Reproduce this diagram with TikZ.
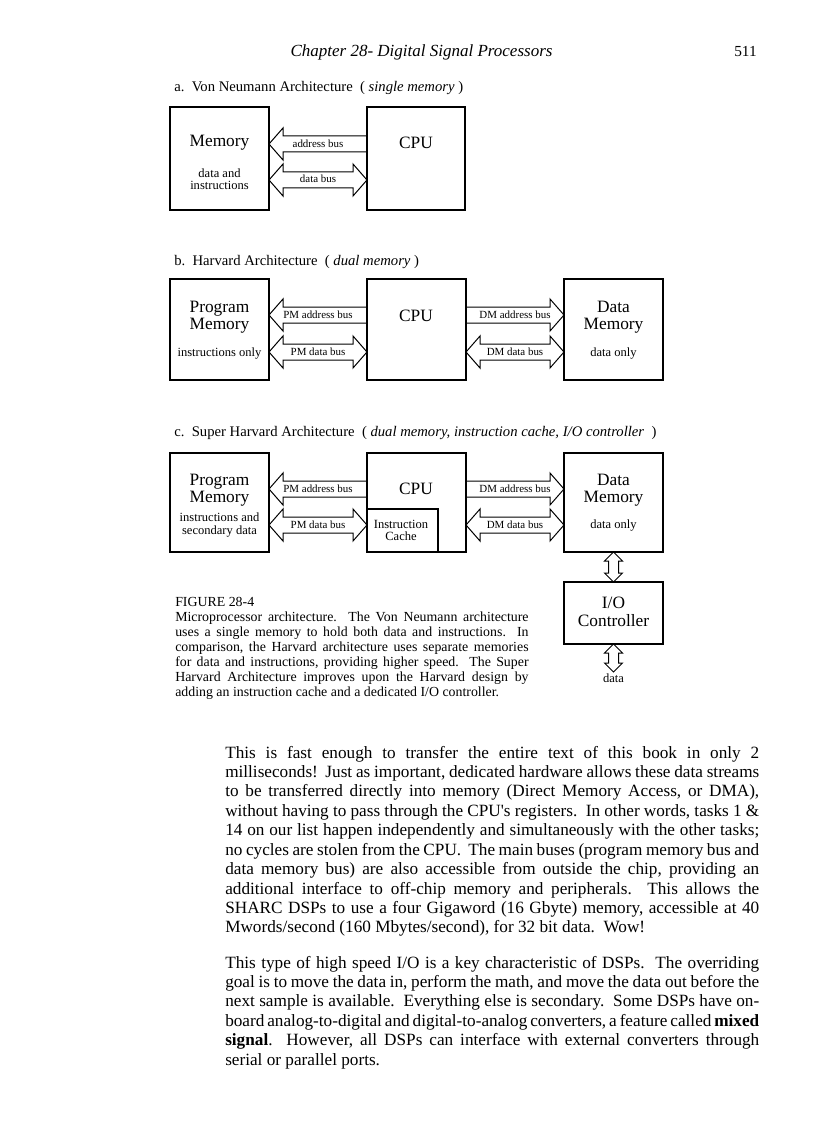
\documentclass[tikz,border=0pt]{standalone}
\usepackage{fontspec}
\setmainfont{Liberation Serif}
\usetikzlibrary{calc,fit}
\pgfdeclarelayer{bg}
\pgfsetlayers{bg,main}
\tikzset{
  box/.style={draw, line width=1.6pt, inner sep=0pt, outer sep=0pt},
  thinbox/.style={draw, line width=0.8pt, inner sep=0pt, outer sep=0pt},
  bus/.style={draw, fill=white, line width=0.75pt, line join=miter},
  big/.style={font=\fontsize{13}{15}\selectfont, inner sep=0pt, anchor=base},
  mid/.style={font=\fontsize{9.4}{11}\selectfont, inner sep=0pt, anchor=base},
  lbl/.style={font=\fontsize{8.2}{10}\selectfont, inner sep=0pt, anchor=base},
  ttl/.style={font=\fontsize{11}{13}\selectfont, inner sep=0pt, anchor=base west},
  bodytext/.style={anchor=base west, inner sep=0pt, text width=400.5pt, align=justify,
      font=\fontsize{12.9}{14.58}\selectfont},
}
% double-headed horizontal bus: left node, right node, y (px)
\newcommand\dbus[3]{%
  \begin{pgfonlayer}{bg}
  \draw[bus] (#1.east |- 0,#3) -- ++(14,-16) -- ++(0,8)
    -- ($(#2.west |- 0,#3)+(-14,-8)$) -- ++(0,-8) -- (#2.west |- 0,#3)
    -- ++(-14,16) -- ++(0,-8) -- ($(#1.east |- 0,#3)+(14,8)$) -- ++(0,8) -- cycle;
  \end{pgfonlayer}}
% single head pointing left (tip at left node)
\newcommand\lbus[3]{%
  \begin{pgfonlayer}{bg}
  \draw[bus] (#1.east |- 0,#3) -- ++(14,-16) -- ++(0,8)
    -- (#2.west |- 0,#3-8) -- (#2.west |- 0,#3+8)
    -- ($(#1.east |- 0,#3)+(14,8)$) -- ++(0,8) -- cycle;
  \end{pgfonlayer}}
% single head pointing right (tip at right node)
\newcommand\rbus[3]{%
  \begin{pgfonlayer}{bg}
  \draw[bus] (#1.east |- 0,#3-8) -- ($(#2.west |- 0,#3)+(-14,-8)$) -- ++(0,-8)
    -- (#2.west |- 0,#3) -- ++(-14,16) -- ++(0,-8)
    -- (#1.east |- 0,#3+8) -- cycle;
  \end{pgfonlayer}}
% double-headed vertical bus: top point, bottom point
\newcommand\vbus[2]{%
  \begin{pgfonlayer}{bg}
  \draw[bus] (#1) -- ++(9,9) -- ++(-4,0) -- ($(#2)+(5,-9)$) -- ++(4,0) -- (#2)
    -- ++(-9,-9) -- ++(4,0) -- ($(#1)+(-5,9)$) -- ++(-4,0) -- cycle;
  \end{pgfonlayer}}
\begin{document}
\frenchspacing
\begin{tikzpicture}[x=0.75pt,y=-0.75pt]
\useasboundingbox (0,0) rectangle (816,1123);
\begin{pgfonlayer}{bg}\fill[white] (0,0) rectangle (816,1123);\end{pgfonlayer}

% header
\node[font=\itshape\fontsize{12.75}{14}\selectfont, inner sep=0pt, anchor=base] (hdr) at (421.5,57) {Chapter 28- Digital Signal Processors};
\node[font=\fontsize{11.5}{14}\selectfont, inner sep=0pt, anchor=base east] (pg) at (757,57) {511};

% ---------- a. Von Neumann ----------
\node[ttl] (ta) at (174,92) {a.\ \ Von Neumann Architecture\ \ ( \textit{single memory} )};
\node[box, fit={(170,107) (269,210)}] (mema) {};
\node[box, fit={(367,107) (465,210)}] (cpua) {};
\lbus{mema}{cpua}{144}
\dbus{mema}{cpua}{180}
\node[big] (mema1) at (219.5,147) {Memory};
\node[mid] (mema2) at (219.5,178) {data and};
\node[mid] (mema3) at (219.5,189.5) {instructions};
\node[big] (cpua1) at (416,148.5) {CPU};
\node[lbl] (abusa) at (318,147.5) {address bus};
\node[lbl] (dbusa) at (318,183) {data bus};

% ---------- b. Harvard ----------
\node[ttl] (tb) at (174,265) {b.\ \ Harvard Architecture\ \ ( \textit{dual memory} )};
\node[box, fit={(170,279) (269,380)}] (pmb) {};
\node[box, fit={(367,279) (466,380)}] (cpub) {};
\node[box, fit={(564,279) (663,380)}] (dmb) {};
\lbus{pmb}{cpub}{315}
\dbus{pmb}{cpub}{352}
\rbus{cpub}{dmb}{315}
\dbus{cpub}{dmb}{352}
\node[big] (pmb1) at (219.5,312) {Program};
\node[big] (pmb2) at (219.5,329) {Memory};
\node[mid] (pmb3) at (219.5,356) {instructions only};
\node[big] (cpub1) at (416,321) {CPU};
\node[big] (dmb1) at (613.5,312) {Data};
\node[big] (dmb2) at (613.5,329) {Memory};
\node[mid] (dmb3) at (613.5,356) {data only};
\node[lbl] (pmab) at (318,318.5) {PM address bus};
\node[lbl] (pmdb) at (318,355.5) {PM data bus};
\node[lbl] (dmab) at (515,318.5) {DM address bus};
\node[lbl] (dmdb) at (515,355.5) {DM data bus};

% ---------- c. Super Harvard ----------
\node[ttl] (tc) at (174,436) {c.\ \ Super Harvard Architecture\ \ ( \textit{dual memory, instruction cache, I/O controller} \ )};
\node[box, fit={(170,453) (269,552)}] (pmc) {};
\node[thinbox, fit={(367,509) (438,552)}] (cache) {};
\node[box, fit={(367,453) (466,552)}] (cpuc) {};
\node[box, fit={(564,453) (663,552)}] (dmc) {};
\node[box, fit={(564,582) (663,644)}] (io) {};
\coordinate (ioout) at (613.5,672);
\lbus{pmc}{cpuc}{489}
\dbus{pmc}{cpuc}{525}
\rbus{cpuc}{dmc}{489}
\dbus{cpuc}{dmc}{525}
\vbus{dmc.south}{io.north}
\vbus{io.south}{ioout}
\node[big] (pmc1) at (219.5,485.5) {Program};
\node[big] (pmc2) at (219.5,502.5) {Memory};
\node[mid] (pmc3) at (219.5,521.5) {instructions and};
\node[mid] (pmc4) at (219.5,534) {secondary data};
\node[big] (cpuc1) at (416,494.5) {CPU};
\node[mid] (cache1) at (401,528) {Instruction};
\node[mid] (cache2) at (401,540.5) {Cache};
\node[big] (dmc1) at (613.5,485.5) {Data};
\node[big] (dmc2) at (613.5,502.5) {Memory};
\node[mid] (dmc3) at (613.5,528) {data only};
\node[lbl] (pmac) at (318,492) {PM address bus};
\node[lbl] (pmdc) at (318,528) {PM data bus};
\node[lbl] (dmac) at (515,492) {DM address bus};
\node[lbl] (dmdc) at (515,528) {DM data bus};
\node[big] (io1) at (613.5,608) {I/O};
\node[big] (io2) at (613.5,626) {Controller};
\node[mid] (iodata) at (613.5,682.5) {data};

% caption
\node[anchor=base west, inner sep=0pt, text width=265pt, align=justify,
      font=\fontsize{10.4}{11.25}\selectfont] (cap) at (175,606.5) {%
FIGURE 28-4\\
Microprocessor architecture. \ The Von Neumann architecture\linebreak
uses a single memory to hold both data and instructions. \ In\linebreak
comparison, the Harvard architecture uses separate memories\linebreak
for data and instructions, providing higher speed. \ The Super\linebreak
Harvard Architecture improves upon the Harvard design by\linebreak
adding an instruction cache and a dedicated I/O controller.};

% body text
\node[bodytext] (para1) at (225,758) {%
This is fast enough to transfer the entire text of this book in only 2\linebreak
milliseconds! \ Just as important, dedicated hardware allows these data streams\linebreak
to be transferred directly into memory (Direct Memory Access, or DMA),\linebreak
without having to pass through the CPU\textquotesingle s registers. \ In other words, tasks 1 \&\linebreak
14 on our list happen independently and simultaneously with the other tasks;\linebreak
no cycles are stolen from the CPU. \ The main buses (program memory bus and\linebreak
data memory bus) are also accessible from outside the chip, providing an\linebreak
additional interface to off-chip memory and peripherals. \ This allows the\linebreak
SHARC DSPs to use a four Gigaword (16 Gbyte) memory, accessible at 40\linebreak
Mwords/second (160 Mbytes/second), for 32 bit data. \ Wow!};

\node[bodytext] (para2) at (225,968) {%
This type of high speed I/O is a key characteristic of DSPs. \ The overriding\linebreak
goal is to move the data in, perform the math, and move the data out before the\linebreak
next sample is available. \ Everything else is secondary. \ Some DSPs have on-\linebreak
board analog-to-digital and digital-to-analog converters, a feature called \textbf{mixed}\linebreak
\textbf{signal}. \ However, all DSPs can interface with external converters through\linebreak
serial or parallel ports.};
\end{tikzpicture}
\end{document}
